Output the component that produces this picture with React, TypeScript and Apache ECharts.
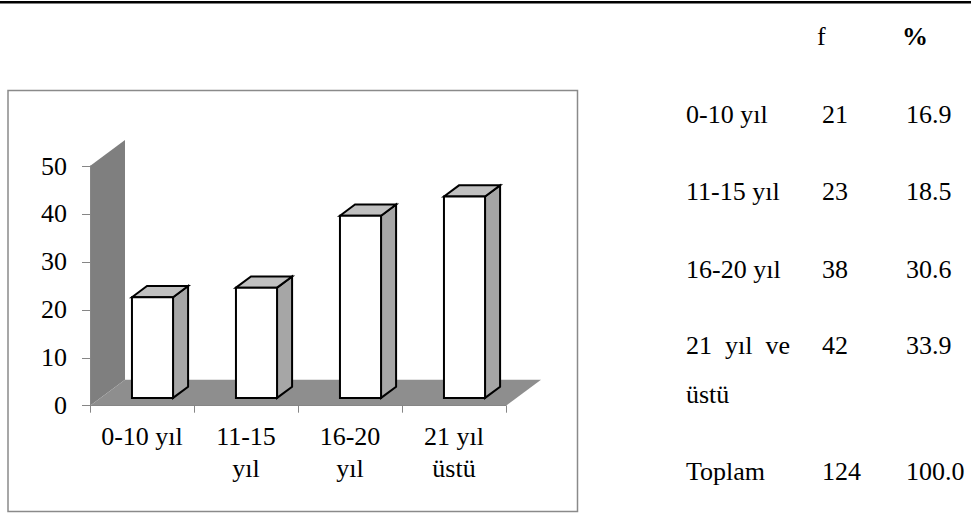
import React, { useEffect, useRef } from 'react';
import * as echarts from 'echarts';

// Hizmet yılı grupları ve frekansları
const categories = ['0-10 yıl', '11-15\nyıl', '16-20\nyıl', '21 yıl\nüstü'];
const counts = [21, 23, 38, 42];
const percents = ['16.9', '18.5', '30.6', '33.9'];
const rowLabels = ['0-10 yıl', '11-15 yıl', '16-20 yıl', '21  yıl  ve'];
const rowWrap = ['', '', '', 'üstü'];
const totalLabel = 'Toplam';
const totalCount = 124;
const totalPercent = '100.0';
const headerF = 'f';
const headerPct = '%';

const Y_MIN = 0;
const Y_MAX = 50;
const Y_STEP = 10;

const FONT = "'Liberation Serif', 'Times New Roman', serif";
const FONT_SIZE = 26;
// oblique projection used for the 3-D look (pixels for one full depth unit)
const DEPTH: [number, number] = [35, -26];
const BAR_FRONT = 0.3;
const BAR_BACK = 0.73;

function renderBackdrop(params: any, api: any) {
  const cs = params.coordSys;
  const x0 = cs.x;
  const x1 = cs.x + cs.width;
  const yBase = api.coord([0, Y_MIN])[1];
  const yTop = api.coord([0, Y_MAX])[1];
  const [dx, dy] = DEPTH;
  return {
    type: 'group',
    children: [
      {
        type: 'polygon',
        shape: { points: [[x0, yTop], [x0 + dx, yTop + dy], [x0 + dx, yBase + dy], [x0, yBase]] },
        style: { fill: '#7f7f7f' },
      },
      {
        type: 'polygon',
        shape: { points: [[x0, yBase], [x0 + dx, yBase + dy], [x1 + dx, yBase + dy], [x1, yBase]] },
        style: { fill: '#8e8e8e' },
      },
    ],
  };
}

function renderBar(params: any, api: any) {
  const idx = api.value(0);
  const v = api.value(1);
  const [cx, yb] = api.coord([idx, Y_MIN]);
  const yt = api.coord([idx, v])[1];
  const band = api.size([1, 0])[0];
  const w = band * 0.395;
  const fx0 = cx + DEPTH[0] * BAR_FRONT - w / 2;
  const fx1 = fx0 + w;
  const fyb = yb + DEPTH[1] * BAR_FRONT;
  const fyt = yt + DEPTH[1] * BAR_FRONT;
  const ddx = DEPTH[0] * (BAR_BACK - BAR_FRONT);
  const ddy = DEPTH[1] * (BAR_BACK - BAR_FRONT);
  const edge = { stroke: '#000', lineWidth: 2, lineJoin: 'miter' };
  return {
    type: 'group',
    children: [
      {
        type: 'polygon',
        shape: { points: [[fx1, fyt], [fx1 + ddx, fyt + ddy], [fx1 + ddx, fyb + ddy], [fx1, fyb]] },
        style: { fill: '#a6a6a6', ...edge },
      },
      {
        type: 'polygon',
        shape: { points: [[fx0, fyt], [fx0 + ddx, fyt + ddy], [fx1 + ddx, fyt + ddy], [fx1, fyt]] },
        style: { fill: '#c0c0c0', ...edge },
      },
      {
        type: 'rect',
        shape: { x: fx0, y: fyt, width: w, height: fyb - fyt },
        style: { fill: '#ffffff', ...edge },
      },
    ],
  };
}

function tableText(text: string, x: number, y: number, bold = false) {
  return {
    type: 'text',
    x,
    y,
    z: 10,
    style: {
      text,
      fill: '#000',
      fontSize: FONT_SIZE,
      fontFamily: FONT,
      fontWeight: bold ? 'bold' : 'normal',
      align: 'left',
      verticalAlign: 'middle',
    },
  };
}

export default function App() {
  const ref = useRef<HTMLDivElement>(null);

  useEffect(() => {
    if (!ref.current) return;
    const chart = echarts.init(ref.current, undefined, { renderer: 'svg' });

    const colLabel = 686;
    const colF = 822;
    const colPct = 906;
    const rowY = [114, 191, 269, 345];
    const wrapGap = 49;
    const totalY = 471;

    const table: any[] = [
      tableText(headerF, 817, 36),
      tableText(headerPct, 902, 36, true),
    ];
    rowLabels.forEach((lab, i) => {
      table.push(tableText(lab, colLabel, rowY[i]));
      table.push(tableText(String(counts[i]), colF, rowY[i]));
      table.push(tableText(percents[i], colPct, rowY[i]));
      if (rowWrap[i]) table.push(tableText(rowWrap[i], colLabel, rowY[i] + wrapGap));
    });
    table.push(tableText(totalLabel, colLabel, totalY));
    table.push(tableText(String(totalCount), colF, totalY));
    table.push(tableText(totalPercent, colPct, totalY));

    chart.setOption({
      animation: false,
      backgroundColor: '#ffffff',
      grid: { left: 90, right: 465, top: 166, bottom: 109.3 },
      xAxis: {
        type: 'category',
        data: categories,
        z: 5,
        axisLine: { lineStyle: { color: '#868686', width: 1 } },
        axisTick: { show: true, length: 7, lineStyle: { color: '#868686' } },
        axisLabel: {
          color: '#000',
          fontSize: FONT_SIZE,
          fontFamily: FONT,
          lineHeight: 32,
          margin: 15,
          interval: 0,
        },
        splitLine: { show: false },
      },
      yAxis: {
        type: 'value',
        min: Y_MIN,
        max: Y_MAX,
        interval: Y_STEP,
        z: 5,
        axisLine: { show: true, lineStyle: { color: '#868686', width: 1 } },
        axisTick: { show: true, length: 8, lineStyle: { color: '#868686' } },
        axisLabel: {
          color: '#000',
          fontSize: FONT_SIZE,
          fontFamily: FONT,
          margin: 23,
        },
        splitLine: { show: false },
      },
      graphic: [
        {
          type: 'rect',
          shape: { x: 0, y: 1, width: 971, height: 2.5 },
          style: { fill: '#000' },
        },
        {
          type: 'rect',
          shape: { x: 8, y: 90.5, width: 569.5, height: 421 },
          style: { fill: 'none', stroke: '#8a8a8a', lineWidth: 1.5 },
          z: -1,
        },
        ...table,
      ],
      series: [
        {
          type: 'custom',
          renderItem: renderBackdrop,
          data: [[0, 0]],
          z: 1,
          silent: true,
        },
        {
          type: 'custom',
          renderItem: renderBar,
          data: counts.map((c, i) => [i, c]),
          z: 3,
        },
      ],
    });

    return () => chart.dispose();
  }, []);

  return (
    <div
      ref={ref}
      style={{ position: 'absolute', left: 0, top: 0, width: 971, height: 515 }}
    />
  );
}
